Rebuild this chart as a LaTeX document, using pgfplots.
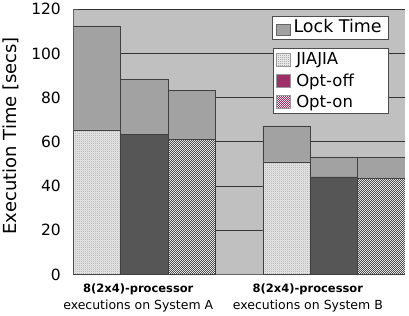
\documentclass[border=0pt]{standalone}
\usepackage{pgfplots}
\pgfplotsset{compat=1.18}
\usepackage{fontspec}
\setmainfont{DejaVu Sans}
\usetikzlibrary{patterns}
\definecolor{bggray}{HTML}{C0C0C0}
\definecolor{lockgray}{HTML}{A2A2A2}
\definecolor{offgray}{HTML}{565656}
\definecolor{maroon}{HTML}{9E2F68}
\pgfdeclarepatternformonly{finedots}{\pgfpointorigin}{\pgfqpoint{1.6pt}{1.6pt}}{\pgfqpoint{1.6pt}{1.6pt}}{%
  \pgfpathrectangle{\pgfpointorigin}{\pgfqpoint{0.8pt}{0.8pt}}\pgfusepath{fill}}
\pgfdeclarepatternformonly{finecheck}{\pgfpointorigin}{\pgfqpoint{2.4pt}{2.4pt}}{\pgfqpoint{2.4pt}{2.4pt}}{%
  \pgfpathrectangle{\pgfpointorigin}{\pgfqpoint{1.2pt}{1.2pt}}%
  \pgfpathrectangle{\pgfqpoint{1.2pt}{1.2pt}}{\pgfqpoint{1.2pt}{1.2pt}}\pgfusepath{fill}}
\pgfplotstableread{
x total
0.5 112.4
1.5 88.4
2.5 83.3
4.5 67.2
5.5 53.2
6.5 52.8
}\totaltbl
\pgfplotstableread{
x val
0.5 65.4
4.5 50.9
}\jiajia
\pgfplotstableread{
x val
1.5 63.4
5.5 44.1
}\optoff
\pgfplotstableread{
x val
2.5 61.2
6.5 43.5
}\opton
\begin{document}
\begin{tikzpicture}
\begin{axis}[
  scale only axis,
  width=332pt, height=265.5pt,
  xmin=0, xmax=7, ymin=0, ymax=120,
  ytick={0,20,40,60,80,100,120},
  xtick={1.37,4.95},
  xticklabels={{\fontsize{11.5}{14}\selectfont\bfseries 8(2x4)-processor\\executions on System A},
               {\fontsize{11.5}{14}\selectfont\bfseries 8(2x4)-processor\\executions on System B}},
  xticklabel style={align=center, font=\fontsize{12.5}{16.5}\selectfont, yshift=-1pt},
  major x tick style={draw=none},
  yticklabel style={font=\fontsize{15.5}{18}\selectfont, xshift=-9pt},
  /pgf/number format/assume math mode=true,
  ymajorgrids,
  grid style={draw=black!80, line width=0.7pt},
  major y tick style={draw=black!70, line width=0.6pt},
  major tick length=5pt,
  axis background/.style={fill=bggray},
  axis x line*=bottom, axis y line*=left,
  axis line style={draw=black!60, line width=0.7pt},
  ylabel={Execution Time [secs]},
  ylabel style={at={(axis description cs:-0.187,0.523)}, anchor=center, font=\fontsize{18}{20}\selectfont},
  ybar, bar width=1, bar shift=0pt,
  legend image code/.code={\draw[#1] (0pt,-6.5pt) rectangle (14pt,6.5pt);},
  legend style={at={(axis description cs:0.9518,0.855)}, anchor=north east,
    draw=black!70, line width=0.6pt, fill=white, font=\fontsize{16.5}{19}\selectfont,
    row sep=3.2pt, inner ysep=3pt, inner xsep=2.5pt,
    /tikz/every odd column/.append style={column sep=4pt}},
  legend cell align=left,
]
\addplot[forget plot, fill=lockgray, draw=black!75, line width=0.6pt] table[x=x,y=total] {\totaltbl};
\addplot[forget plot, fill=black!12, draw=black!75, line width=0.6pt, postaction={pattern=finedots, pattern color=black!45}] table[x=x,y=val] {\jiajia};
\addplot[forget plot, fill=offgray, draw=black!75, line width=0.6pt] table[x=x,y=val] {\optoff};
\addplot[forget plot, fill=white, draw=black!75, line width=0.6pt, postaction={pattern=finecheck, pattern color=black!70}] table[x=x,y=val] {\opton};
\addlegendimage{fill=black!10, draw=black!40, line width=0.4pt, postaction={pattern=finedots, pattern color=black!60}}
\addlegendentry{JIAJIA\hspace*{46pt}}
\addlegendimage{fill=maroon, draw=black!40, line width=0.4pt}
\addlegendentry{Opt-off}
\addlegendimage{fill=white, draw=black!40, line width=0.4pt, postaction={pattern=finecheck, pattern color=maroon}}
\addlegendentry{Opt-on}
\node[draw=black!70, line width=0.6pt, fill=white, anchor=north east, inner xsep=4pt, inner ysep=2pt,
  minimum height=23pt, font=\fontsize{17.5}{20}\selectfont]
  at (axis description cs:0.9518,0.9755)
  {\tikz[baseline=-1pt]\draw[fill=lockgray, draw=black!60, line width=0.5pt] (0,-4pt) rectangle (14pt,7pt);\,Lock Time\hspace*{3pt}};
\path (axis description cs:0,0) ++(-73pt,-35pt) coordinate (bbA);
\path (axis description cs:0,0) ++(336pt,273pt) coordinate (bbB);
\end{axis}
\useasboundingbox (bbA) rectangle (bbB);
\end{tikzpicture}
\end{document}
